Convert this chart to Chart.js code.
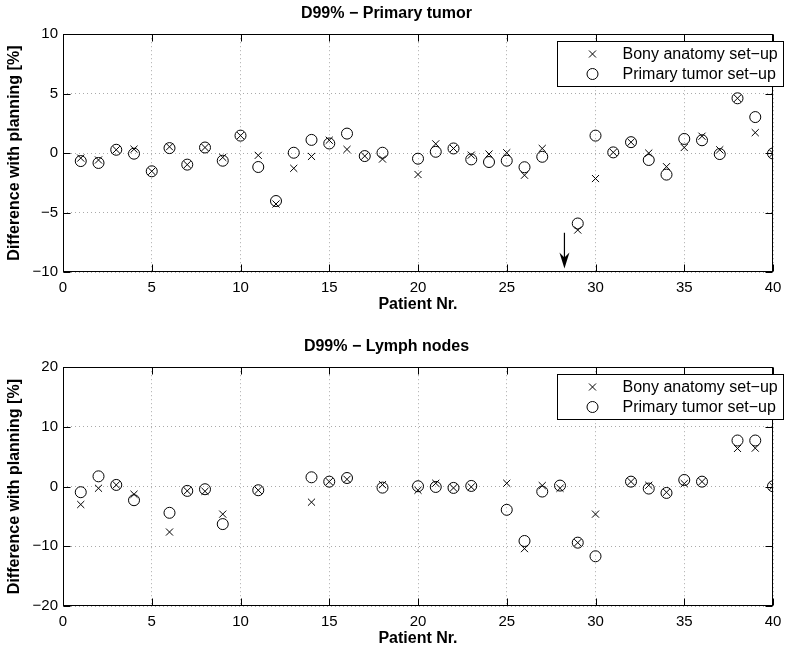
<!DOCTYPE html>
<html>
<head>
<meta charset="utf-8">
<script src="https://cdn.jsdelivr.net/npm/chart.js@4.4.0/dist/chart.umd.min.js"></script>
<style>
    body { margin: 0; background: #fff; }
    .plot { position: absolute; left: 0; width: 800px; }
</style>
</head>
<body>
<div class="plot" style="top:0;height:319px"><canvas id="topChart"></canvas></div>
<div class="plot" style="top:333px;height:320px"><canvas id="bottomChart"></canvas></div>
<script>
// --- DATA ---
const patients = Array.from({ length: 40 }, (_, i) => i + 1);
const seriesLabels = ['Bony anatomy set\u2212up', 'Primary tumor set\u2212up'];

// D99% - Primary tumor (patients 19 and 28 missing)
const tumorBony = [-0.42, -0.58, 0.28, 0.33, -1.53, 0.53, -0.97, 0.47, -0.36, 1.47,
    -0.19, -4.28, -1.28, -0.28, 1.08, 0.31, -0.25, -0.5, null, -1.8,
    0.78, 0.39, -0.17, -0.08, 0.03, -1.86, 0.39, null, -6.47, -2.14,
    0.06, 0.92, 0, -1.14, 0.47, 1.42, 0.28, 4.61, 1.72, -0.03];
const tumorPrimary = [-0.67, -0.83, 0.28, -0.05, -1.53, 0.42, -0.97, 0.47, -0.64, 1.47,
    -1.17, -4.03, 0.03, 1.11, 0.81, 1.64, -0.25, 0.03, null, -0.47,
    0.11, 0.39, -0.53, -0.75, -0.64, -1.19, -0.31, null, -5.92, 1.47,
    0.06, 0.92, -0.58, -1.81, 1.19, 1.08, -0.08, 4.61, 3.03, -0.03];

// D99% - Lymph nodes
const nodesBony = [-3.0, -0.28, 0.28, -1.28, null, -7.61, -0.72, -0.78, -4.61, null,
    -0.61, null, null, -2.61, 0.83, 1.22, null, 0.33, null, -0.61,
    0.56, -0.22, -0.06, null, 0.56, -10.39, 0.17, -0.28, -9.39, -4.61,
    null, 0.83, 0.22, -0.95, 0.5, 0.83, null, 6.39, 6.44, 0.06];
const nodesPrimary = [-0.94, 1.72, 0.28, -2.28, null, -4.39, -0.72, -0.44, -6.28, null,
    -0.61, null, null, 1.56, 0.83, 1.44, null, -0.17, null, 0.06,
    -0.06, -0.22, 0.11, null, -3.89, -9.11, -0.83, 0.17, -9.39, -11.67,
    null, 0.83, -0.33, -1.06, 1.11, 0.83, null, 7.72, 7.72, 0.06];

const xTicks = { min: 0, max: 40, step: 5 };
const tumorTicks = { min: -10, max: 10, step: 5 };
const nodesTicks = { min: -20, max: 20, step: 10 };
const arrowTumor = { x: 28.25, from: -6.7, to: -9.7 }; // arrow in the top panel

// --- PLUGINS ---
const FONT = "'Liberation Sans', Arial, sans-serif";

// MATLAB-like box with inward ticks
const boxPlugin = {
    id: 'box',
    beforeDatasetsDraw(chart) {
        const { ctx, chartArea: a, scales } = chart;
        const L = Math.round(a.left) + 0.5, R = Math.round(a.right) - 0.5;
        const T = Math.round(a.top) + 0.5, B = Math.round(a.bottom) - 0.5;
        ctx.save();
        ctx.strokeStyle = '#000';
        ctx.lineWidth = 1;
        ctx.strokeRect(L, T, R - L, B - T);
        ctx.beginPath();
        scales.x.ticks.forEach(t => {
            const px = Math.round(scales.x.getPixelForValue(t.value)) + 0.5;
            ctx.moveTo(px, B); ctx.lineTo(px, B - 7);
            ctx.moveTo(px, T); ctx.lineTo(px, T + 7);
        });
        scales.y.ticks.forEach(t => {
            const py = Math.round(scales.y.getPixelForValue(t.value)) + 0.5;
            ctx.moveTo(L, py); ctx.lineTo(L + 7, py);
            ctx.moveTo(R, py); ctx.lineTo(R - 7, py);
        });
        ctx.stroke();
        ctx.restore();
    }
};

// boxed legend in the upper right corner (pokes a bit past the axes, like the original)
const legendBox = {
    id: 'legendBox',
    afterDraw(chart) {
        const { ctx, chartArea: a } = chart;
        const w = 226, h = 45;
        const x0 = Math.round(a.left) + 494 + 0.5, y0 = Math.round(a.top) + 7 + 0.5;
        ctx.save();
        ctx.fillStyle = '#fff';
        ctx.fillRect(x0, y0, w, h);
        ctx.strokeStyle = '#000';
        ctx.lineWidth = 1;
        ctx.strokeRect(x0, y0, w, h);
        ctx.font = '16px ' + FONT;
        ctx.fillStyle = '#000';
        ctx.textBaseline = 'middle';
        chart.data.datasets.forEach((ds, i) => {
            const cy = y0 + 12.5 + i * 20, cx = x0 + 35;
            ctx.beginPath();
            if (ds.pointStyle === 'crossRot') {
                ctx.moveTo(cx - 3.5, cy - 3.5); ctx.lineTo(cx + 3.5, cy + 3.5);
                ctx.moveTo(cx + 3.5, cy - 3.5); ctx.lineTo(cx - 3.5, cy + 3.5);
            } else {
                ctx.arc(cx, cy, ds.pointRadius, 0, Math.PI * 2);
            }
            ctx.stroke();
            ctx.fillText(ds.label, x0 + 65, cy + 1);
        });
        ctx.restore();
    }
};

const arrowPlugin = {
    id: 'arrow',
    afterDraw(chart, args, opts) {
        if (!opts.arrow) return;
        const { ctx, scales } = chart;
        const x = scales.x.getPixelForValue(opts.arrow.x);
        const y1 = scales.y.getPixelForValue(opts.arrow.from);
        const y2 = scales.y.getPixelForValue(opts.arrow.to);
        ctx.save();
        ctx.strokeStyle = '#000';
        ctx.fillStyle = '#000';
        ctx.lineWidth = 1.2;
        ctx.beginPath();
        ctx.moveTo(x, y1); ctx.lineTo(x, y2 - 10);
        ctx.stroke();
        ctx.beginPath();
        ctx.moveTo(x, y2);
        ctx.lineTo(x - 5, y2 - 16);
        ctx.lineTo(x, y2 - 11);
        ctx.lineTo(x + 5, y2 - 16);
        ctx.closePath();
        ctx.fill();
        ctx.restore();
    }
};

// --- CHART BUILDER ---
function toPoints(values) {
    return patients.map((p, i) => ({ x: p, y: values[i] })).filter(d => d.y !== null);
}
const minusTick = v => String(v).replace('-', '\u2212');

function makeChart(id, title, bony, primary, yTicks, arrow) {
    const ctx = document.getElementById(id).getContext('2d');
    return new Chart(ctx, {
        type: 'scatter',
        data: {
            datasets: [
                { label: seriesLabels[0], data: toPoints(bony), pointStyle: 'crossRot', pointRadius: 5,
                  borderColor: '#000', backgroundColor: 'rgba(0,0,0,0)', borderWidth: 1 },
                { label: seriesLabels[1], data: toPoints(primary), pointStyle: 'circle', pointRadius: 5.5,
                  borderColor: '#000', backgroundColor: 'rgba(0,0,0,0)', borderWidth: 1 }
            ]
        },
        options: {
            responsive: true,
            maintainAspectRatio: false,
            animation: false,
            events: [],
            layout: { padding: { left: 0, right: 27, top: 0, bottom: 0 } },
            plugins: {
                legend: { display: false },
                tooltip: { enabled: false },
                title: {
                    display: true, text: title, color: '#000',
                    font: { family: FONT, size: 16, weight: 'bold' },
                    padding: { top: 4, bottom: 11 }
                },
                arrow: { arrow: arrow }
            },
            scales: {
                x: {
                    type: 'linear', min: xTicks.min, max: xTicks.max,
                    ticks: { stepSize: xTicks.step, color: '#000', padding: 7, font: { family: FONT, size: 15 },
                             callback: minusTick },
                    grid: { color: '#aaa', drawTicks: false },
                    border: { display: false, dash: [1, 3] },
                    title: { display: true, text: 'Patient Nr.', color: '#000',
                             font: { family: FONT, size: 16, weight: 'bold' }, padding: { top: 0, bottom: 5 } },
                    afterFit: s => { s.height = 47; }
                },
                y: {
                    min: yTicks.min, max: yTicks.max,
                    ticks: { stepSize: yTicks.step, color: '#000', padding: 5, font: { family: FONT, size: 15 },
                             callback: minusTick },
                    grid: { color: '#aaa', drawTicks: false },
                    border: { display: false, dash: [1, 3] },
                    title: { display: true, text: 'Difference with planning [%]', color: '#000',
                             font: { family: FONT, size: 16, weight: 'bold' }, padding: { top: 5, bottom: 0 } },
                    afterFit: s => { s.width = 63; }
                }
            }
        },
        plugins: [boxPlugin, legendBox, arrowPlugin]
    });
}

makeChart('topChart', 'D99% \u2212 Primary tumor', tumorBony, tumorPrimary, tumorTicks, arrowTumor);
makeChart('bottomChart', 'D99% \u2212 Lymph nodes', nodesBony, nodesPrimary, nodesTicks, null);
</script>
</body>
</html>
